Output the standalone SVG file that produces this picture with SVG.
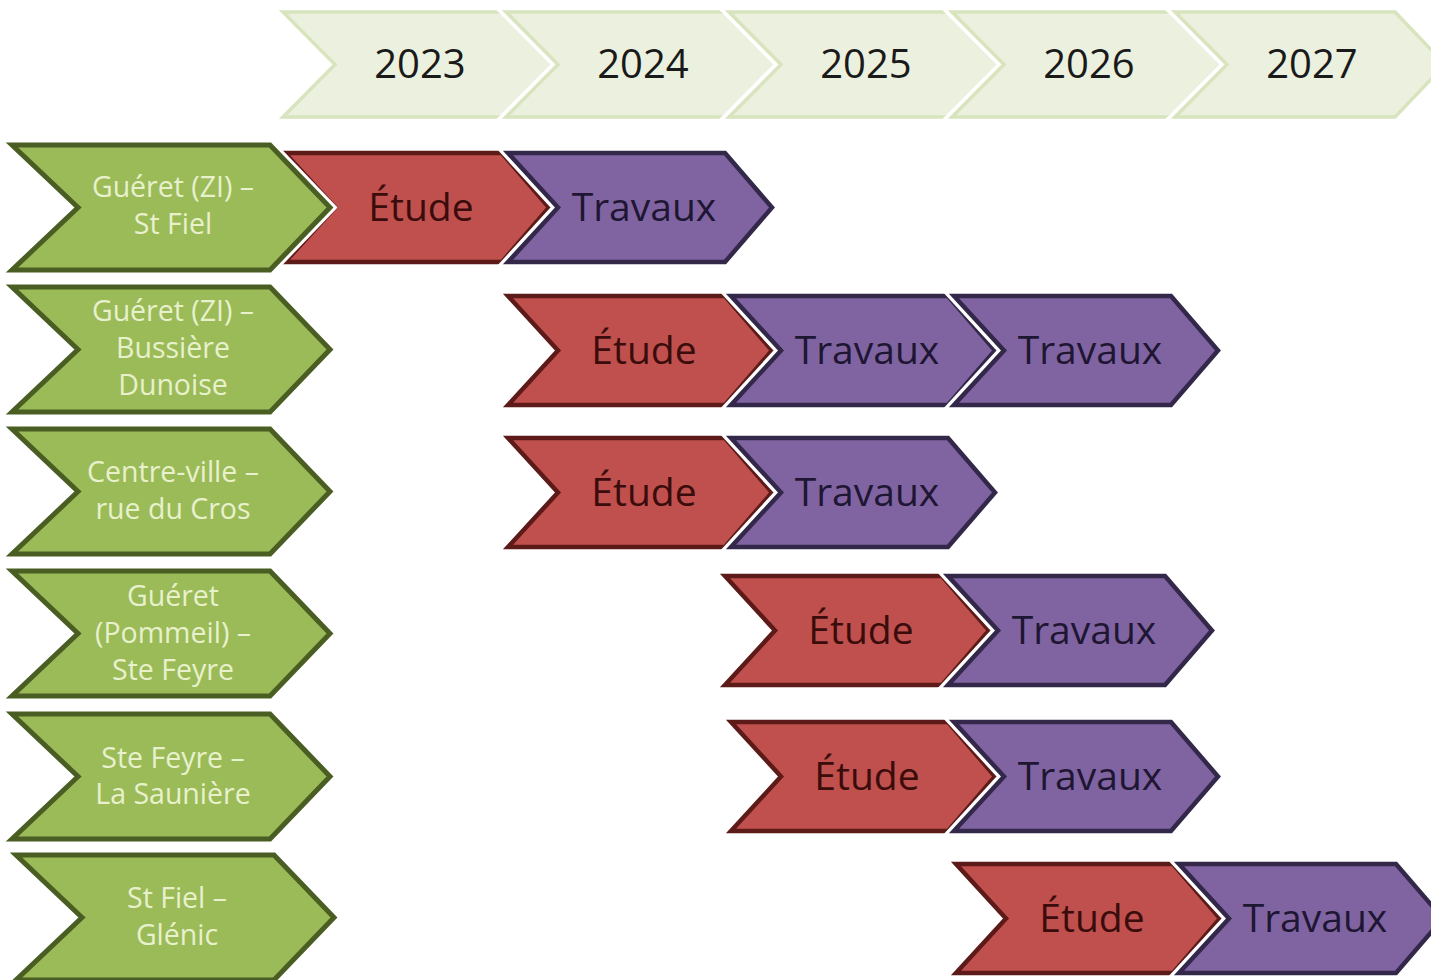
<svg xmlns="http://www.w3.org/2000/svg" xmlns:xlink="http://www.w3.org/1999/xlink" width="1431" height="980" viewBox="0 0 1431 980">
<style>
.halo{fill:#ffffff;stroke:#ffffff;stroke-width:11;stroke-linejoin:miter}
.hdr{fill:#ebf1de;stroke:#d7e4bd;stroke-width:3.5;stroke-linejoin:miter}
.grn{fill:#9bbb59;stroke:#4a5e23;stroke-width:5;stroke-linejoin:miter}
.red{fill:#c0504d;stroke:#5c1a18;stroke-width:4.5;stroke-linejoin:miter}
.pur{fill:#8064a2;stroke:#33284a;stroke-width:4.5;stroke-linejoin:miter}
text{font-family:"Open Sans","Noto Sans","Liberation Sans",sans-serif;text-anchor:middle}
.yr{font-size:40px;fill:#1a1a1a}
.gt{font-size:28.5px;fill:#e8f1cc}
.rt{font-size:39px;fill:#3a0c0b}
.pt{font-size:39px;fill:#1e1633}
</style>
<defs>
<path id="sh" d="M0,0 H220 L270,52.5 L220,105 H0 L52,52.5 Z"/>
<path id="sg" d="M0,0 H258 L318,62.5 L258,125 H0 L66,62.5 Z"/>
<path id="sp" d="M0,0 H217 L264,54.5 L217,109 H0 L50,54.5 Z"/>
</defs>

<g id="header">
<g id="y2023" transform="translate(283,12)"><use xlink:href="#sh" class="halo"/><use xlink:href="#sh" class="hdr"/><text class="yr" x="137" y="66">2023</text></g>
<g id="y2024" transform="translate(506,12)"><use xlink:href="#sh" class="halo"/><use xlink:href="#sh" class="hdr"/><text class="yr" x="137" y="66">2024</text></g>
<g id="y2025" transform="translate(729,12)"><use xlink:href="#sh" class="halo"/><use xlink:href="#sh" class="hdr"/><text class="yr" x="137" y="66">2025</text></g>
<g id="y2026" transform="translate(952,12)"><use xlink:href="#sh" class="halo"/><use xlink:href="#sh" class="hdr"/><text class="yr" x="137" y="66">2026</text></g>
<g id="y2027" transform="translate(1175,12)"><use xlink:href="#sh" class="halo"/><use xlink:href="#sh" class="hdr"/><text class="yr" x="137" y="66">2027</text></g>
</g>

<g id="connectors"></g>

<!-- Row 1 -->
<g id="r1-etude" transform="translate(285,153)"><use xlink:href="#sp" class="halo"/><use xlink:href="#sp" class="red"/><text class="rt" x="136" y="68">Étude</text></g>
<g id="r1-travaux" transform="translate(508,153)"><use xlink:href="#sp" class="halo"/><use xlink:href="#sp" class="pur"/><text class="pt" x="136" y="68">Travaux</text></g>
<!-- Row 2 -->
<g id="r2-etude" transform="translate(508,296)"><use xlink:href="#sp" class="halo"/><use xlink:href="#sp" class="red"/><text class="rt" x="136" y="68">Étude</text></g>
<g id="r2-travaux1" transform="translate(731,296)"><use xlink:href="#sp" class="halo"/><use xlink:href="#sp" class="pur"/><text class="pt" x="136" y="68">Travaux</text></g>
<g id="r2-travaux2" transform="translate(954,296)"><use xlink:href="#sp" class="halo"/><use xlink:href="#sp" class="pur"/><text class="pt" x="136" y="68">Travaux</text></g>
<!-- Row 3 -->
<g id="r3-etude" transform="translate(508,438)"><use xlink:href="#sp" class="halo"/><use xlink:href="#sp" class="red"/><text class="rt" x="136" y="68">Étude</text></g>
<g id="r3-travaux" transform="translate(731,438)"><use xlink:href="#sp" class="halo"/><use xlink:href="#sp" class="pur"/><text class="pt" x="136" y="68">Travaux</text></g>
<!-- Row 4 -->
<g id="r4-etude" transform="translate(725,576)"><use xlink:href="#sp" class="halo"/><use xlink:href="#sp" class="red"/><text class="rt" x="136" y="68">Étude</text></g>
<g id="r4-travaux" transform="translate(948,576)"><use xlink:href="#sp" class="halo"/><use xlink:href="#sp" class="pur"/><text class="pt" x="136" y="68">Travaux</text></g>
<!-- Row 5 -->
<g id="r5-etude" transform="translate(731,722)"><use xlink:href="#sp" class="halo"/><use xlink:href="#sp" class="red"/><text class="rt" x="136" y="68">Étude</text></g>
<g id="r5-travaux" transform="translate(954,722)"><use xlink:href="#sp" class="halo"/><use xlink:href="#sp" class="pur"/><text class="pt" x="136" y="68">Travaux</text></g>
<!-- Row 6 -->
<g id="r6-etude" transform="translate(956,864)"><use xlink:href="#sp" class="halo"/><use xlink:href="#sp" class="red"/><text class="rt" x="136" y="68">Étude</text></g>
<g id="r6-travaux" transform="translate(1179,864)"><use xlink:href="#sp" class="halo"/><use xlink:href="#sp" class="pur"/><text class="pt" x="136" y="68">Travaux</text></g>

<!-- Green route labels -->
<g id="route1" transform="translate(12,145)"><use xlink:href="#sg" class="halo"/><use xlink:href="#sg" class="grn"/><text class="gt" x="161" y="52">Guéret (ZI) –</text><text class="gt" x="161" y="89">St Fiel</text></g>
<g id="route2" transform="translate(12,287)"><use xlink:href="#sg" class="halo"/><use xlink:href="#sg" class="grn"/><text class="gt" x="161" y="34">Guéret (ZI) –</text><text class="gt" x="161" y="71">Bussière</text><text class="gt" x="161" y="108">Dunoise</text></g>
<g id="route3" transform="translate(12,429)"><use xlink:href="#sg" class="halo"/><use xlink:href="#sg" class="grn"/><text class="gt" x="161" y="53">Centre-ville –</text><text class="gt" x="161" y="90">rue du Cros</text></g>
<g id="route4" transform="translate(12,571)"><use xlink:href="#sg" class="halo"/><use xlink:href="#sg" class="grn"/><text class="gt" x="161" y="35">Guéret</text><text class="gt" x="161" y="72">(Pommeil) –</text><text class="gt" x="161" y="109">Ste Feyre</text></g>
<g id="route5" transform="translate(12,714)"><use xlink:href="#sg" class="halo"/><use xlink:href="#sg" class="grn"/><text class="gt" x="161" y="54">Ste Feyre –</text><text class="gt" x="161" y="90">La Saunière</text></g>
<g id="route6" transform="translate(16,855)"><use xlink:href="#sg" class="halo"/><use xlink:href="#sg" class="grn"/><text class="gt" x="161" y="53">St Fiel –</text><text class="gt" x="161" y="90">Glénic</text></g>
</svg>
